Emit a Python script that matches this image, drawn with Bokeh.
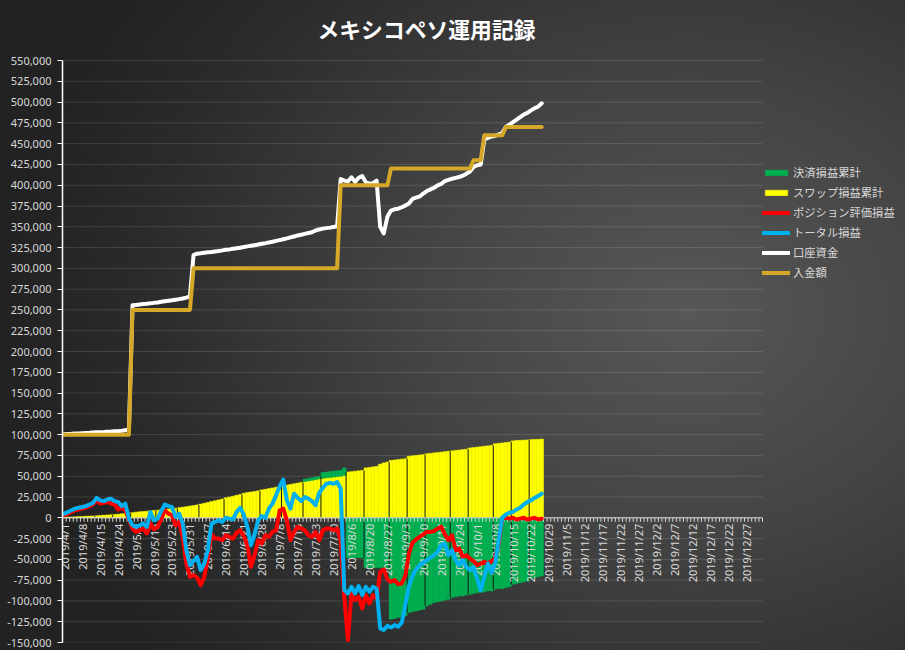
import numpy as np
from math import pi
from bokeh.plotting import figure
from bokeh.models import Range1d, FixedTicker, NumeralTickFormatter, Legend, LegendItem, ColumnDataSource
from bokeh.core.properties import value
from bokeh.embed import file_html
from bokeh.resources import INLINE

title_text = "メキシコペソ運用記録"
series_names = ["決済損益累計", "スワップ損益累計", "ポジション評価損益", "トータル損益", "口座資金", "入金額"]

# category axis (one category per row of the sheet); a label every 5 categories
tick_labels = ["2019/4/1", "2019/4/8", "2019/4/15", "2019/4/24", "2019/5/9", "2019/5/16", "2019/5/23",
               "2019/5/31", "2019/6/7", "2019/6/14", "2019/6/21", "2019/6/28", "2019/7/8", "2019/7/16",
               "2019/7/23", "2019/7/30", "2019/8/6", "2019/8/20", "2019/8/27", "2019/9/3", "2019/9/10",
               "2019/9/17", "2019/9/24", "2019/10/1", "2019/10/8", "2019/10/15", "2019/10/22", "2019/10/29",
               "2019/11/5", "2019/11/12", "2019/11/17", "2019/11/22", "2019/11/27", "2019/12/2", "2019/12/7",
               "2019/12/12", "2019/12/17", "2019/12/22", "2019/12/27"]
n_categories = 195
label_every = 5

# categories where a new week starts (thin dark break between bars)
week_starts = [9, 14, 19, 26, 32, 38, 45, 50, 55, 61, 67, 72, 79, 84, 91, 96, 101, 108, 113, 120, 125, 130]

# values in thousand yen, one per recorded day
realized_k = ([0] * 67 + [3, 3, 3, 3, 3] + [7, 7, 7, 7, 7, 7, 9] + [-48] * 5 + [-60] * 7 +
              [-122, -121, -120, -119, -118] + [-114, -113, -112, -111, -110] +
              [-106, -104, -102, -101, -100, -99, -98] + [-96, -95, -94, -94, -93] +
              [-92, -91, -90, -90, -89, -88, -88] + [-86, -85, -85, -84, -83] +
              [-80, -79, -78, -77, -76] + [-73, -72, -71, -70])

swap_k = [0.5, 0.8, 1.0, 1.2, 1.4, 1.6, 1.8, 2.0, 2.2, 2.4,
          2.8, 3.1, 3.4, 3.7, 4.0, 4.4, 4.8, 5.2, 5.6, 6.2,
          6.8, 7.2, 7.6, 8.0, 8.4, 8.8, 9.2, 9.6, 10.0, 10.5,
          11.0, 11.5, 12.2, 12.8, 13.4, 14.1, 14.8, 15.5, 16.5, 17.5,
          18.5, 19.5, 20.5, 21.5, 22.5, 24.0, 25.0, 26.0, 27.0, 28.0,
          29.5, 30.3, 31.0, 31.7, 32.4, 33.5, 34.3, 35.1, 35.9, 36.7,
          37.5, 38.5, 39.3, 40.1, 40.9, 41.7, 42.5, 43.5, 44.3, 45.1,
          45.9, 46.7, 47.5, 48.0, 48.5, 49.0, 49.5, 50.0, 51.0, 55.0,
          55.5, 56.0, 56.5, 57.0, 60.0, 60.6, 61.2, 61.8, 64.5, 66.0,
          67.0, 69.0, 69.5, 70.0, 70.5, 71.0, 74.0, 74.5, 75.0, 75.5,
          76.0, 77.0, 77.5, 78.0, 78.5, 79.0, 79.5, 80.0, 80.5, 81.0,
          81.5, 82.0, 82.5, 84.0, 84.5, 85.0, 85.5, 86.0, 86.5, 87.0,
          89.0, 89.5, 90.0, 90.5, 91.0, 92.5, 93.0, 93.2, 93.4, 93.6,
          94.0, 94.2, 94.4, 94.6]

position_k = [3, 5, 7, 9, 10, 11, 12, 14, 16, 21,
              17, 18, 19, 17, 16, 10, 12, 9, -2, -13,
              -17, -15, -13, -19, -7, -14, -11, -2, 9, 5,
              3, -9, -5, -23, -55, -71, -69, -72, -81, -71,
              -47, -20, -25, -25, -27, -21, -23, -25, -18, -15,
              -22, -33, -59, -45, -27, -31, -21, -23, -17, -15,
              9, 11, -3, -27, -17, -11, -13, -15, -21, -23,
              -17, -27, -15, -13, -13, -15, -13, -27, -95, -147,
              -91, -99, -95, -109, -93, -103, -93, -97, -65, -62,
              -74, -77, -75, -80, -79, -70, -43, -30, -26, -23,
              -20, -17, -17, -16, -13, -11, -20, -27, -21, -39,
              -37, -47, -45, -49, -52, -57, -55, -53, -55, -52,
              -49, -31, -1, 0, -1, 0, -2, -1, 0, -2,
              -1, 0, -2, -1]

total_k = [5, 7, 9, 11, 12, 13, 14, 16, 18, 24,
           21, 20, 22, 23, 20, 19, 14, 17, -1, -9,
           -11, -9, -7, -11, 7, -3, -1, 8, 16, 14,
           13, 1, 5, -7, -39, -57, -52, -47, -63, -55,
           -39, -7, -5, -3, -5, 0, -1, -2, 7, 12,
           4, -11, -33, -20, -3, 2, 0, 11, 17, 27,
           38, 46, 21, 11, 29, 24, 20, 25, 23, 20,
           15, 30, 36, 41, 42, 41, 43, 35, -87, -91,
           -83, -91, -82, -93, -83, -89, -83, -85, -133, -135,
           -130, -132, -129, -131, -126, -105, -82, -70, -62, -57,
           -54, -51, -48, -45, -41, -33, -31, -45, -39, -51,
           -57, -51, -59, -63, -59, -73, -87, -71, -55, -66,
           -55, -27, 0, 4, 6, 7, 10, 12, 16, 19,
           21, 24, 26, 29]

account_k = [100.5, 100.8, 101.0, 101.3, 101.5, 101.8, 102.0, 102.2, 102.5, 102.8,
             103.0, 103.2, 103.5, 103.7, 104.0, 104.2, 104.6, 105.2, 106.5,
             255.5, 256.0, 256.5, 257.0, 257.4, 257.9, 258.5, 259.0, 259.8, 260.4,
             261.0, 261.6, 262.3, 263.0, 263.8, 264.8, 266.4,
             316.0, 317.7, 318.2, 318.8, 319.3, 319.8, 320.4, 321.0, 321.6, 322.3,
             322.8, 323.5, 324.2, 324.9, 325.6, 326.4, 327.2, 327.9, 328.6, 329.5,
             330.3, 331.2, 332.0, 333.0, 334.0, 335.0, 336.0, 337.2, 338.3, 339.6,
             340.5, 341.5, 342.6, 343.5, 345.5, 346.8, 347.8, 348.4, 349.0, 349.8, 350.5,
             407.5, 405.5, 404.5, 409.5, 404.0, 409.0, 411.0, 403.5, 402.0, 402.5,
             405.5, 350.0, 342.0, 362.0,
             369.5, 371.0, 371.8, 373.5, 375.5, 378.0, 383.5, 385.0, 386.5, 390.0,
             393.0, 395.0, 397.0, 399.8, 401.5, 405.0, 406.5, 407.8, 408.8, 409.8,
             411.5, 413.8, 416.5,
             422.0, 424.0, 425.0,
             455.0, 457.0, 458.5, 459.5, 461.0, 463.0, 470.0, 473.0, 476.0, 479.0,
             482.0, 485.0, 487.0, 490.0, 492.5, 494.5, 498.5]

deposit_k = ([100] * 19 + [250] * 17 + [300] * 41 + [400] * 14 + [420] * 23 +
             [430] * 3 + [460] * 6 + [470] * 11)

# ---------------------------------------------------------------------------
unit = 1000.0
realized = np.array(realized_k, dtype=float) * unit
swap = np.array(swap_k, dtype=float) * unit
position = np.array(position_k, dtype=float) * unit
total = np.array(total_k, dtype=float) * unit
account = np.array(account_k, dtype=float) * unit
deposit = np.array(deposit_k, dtype=float) * unit
idx = np.arange(len(swap))

y_min, y_max, y_step = -150000, 550000, 25000
y_ticks = list(range(y_min, y_max + 1, y_step))

# layout (pixels)
W, H = 905, 650
b_left, b_right, b_bottom = 62, 0, 8
value_top_px = 60          # where the top of the value axis sits
value_area_px = 582        # height of the value axis
cat_area_px = 700.0        # width of the category axis
frame_w = W - b_left - b_right
frame_h = H - b_bottom
units_per_px = (y_max - y_min) / value_area_px
cat_px = cat_area_px / n_categories
x_start = -0.5
x_end = x_start + frame_w / cat_px
x_cat_end = n_categories - 0.5
y_frame_top = y_min + frame_h * units_per_px

p = figure(width=W, height=H, x_range=Range1d(x_start, x_end), y_range=Range1d(y_min, y_frame_top),
           output_backend="svg", toolbar_location=None, x_axis_location=None,
           min_border_left=b_left, min_border_right=b_right, min_border_top=0,
           min_border_bottom=b_bottom)
p.styles = {"background": "radial-gradient(ellipse 75% 85% at 76% 48%, #575757 0%, #444444 40%, #2b2b2b 80%, #222222 100%)"}
p.background_fill_color = None
p.border_fill_color = None
p.outline_line_color = None
p.grid.visible = False

# title (drawn as text above the value area)
title_cx, title_cy = 426, 28
p.text(x=[x_start + (title_cx - b_left) / cat_px], y=[y_max + (value_top_px - title_cy) * units_per_px],
       text=[title_text], text_align="center", text_baseline="middle",
       text_color="#ffffff", text_font=value("Noto Sans CJK JP"), text_font_size=value("21.8px"),
       text_font_style="bold")

# y axis
ya = p.yaxis[0]
ya.bounds = (y_min, y_max)
ya.ticker = FixedTicker(ticks=y_ticks)
ya.formatter = NumeralTickFormatter(format="0,0")
ya.axis_line_color = "#ffffff"
ya.axis_line_width = 1.5
ya.major_tick_line_color = "#ffffff"
ya.major_tick_out = 5
ya.major_tick_in = 0
ya.minor_tick_line_color = None
ya.major_label_standoff = 6
ya.major_label_text_color = "#d9d9d9"
ya.major_label_text_font = "Noto Sans"
ya.major_label_text_font_size = "11px"

# horizontal gridlines over the category area only
p.segment(x0=x_start, x1=x_cat_end, y0=y_ticks, y1=y_ticks, line_color="#ffffff", line_alpha=0.13, line_width=1)

# stacked columns
pos_g = realized >= 0
src_y = ColumnDataSource(dict(x=idx, top=swap))
bar_y = p.vbar(x="x", width=1.0, bottom=0, top="top", source=src_y,
               fill_color="#ffff00", line_color="#ffff00", line_width=0.5)
nz = realized != 0
g_bottom = np.where(pos_g, swap, 0.0)
g_top = np.where(pos_g, swap + realized, realized)
src_g = ColumnDataSource(dict(x=idx[nz], bottom=g_bottom[nz], top=g_top[nz]))
bar_g = p.vbar(x="x", width=1.0, bottom="bottom", top="top", source=src_g,
               fill_color="#00b050", line_color="#00b050", line_width=0.5)

# week breaks between bars
stack_top = np.where(pos_g, swap + realized, swap)
stack_bot = np.where(pos_g, 0.0, realized)
wb = np.array(week_starts)
wb = wb[wb < len(swap)]
brk_top = np.minimum(stack_top[wb - 1], stack_top[wb])
brk_bot = np.maximum(stack_bot[wb - 1], stack_bot[wb])
p.segment(x0=wb - 0.5, x1=wb - 0.5, y0=brk_bot, y1=brk_top, line_color="#151515", line_width=1)

# category axis drawn at y = 0
p.segment(x0=[x_start], x1=[x_cat_end], y0=[0], y1=[0], line_color="#d9d9d9", line_width=1)
bounds = np.arange(n_categories + 1) - 0.5
p.ray(x=bounds, y=np.zeros(len(bounds)), length=4, angle=-pi / 2, length_units="screen",
      line_color="#d9d9d9", line_width=1)
label_x = np.arange(len(tick_labels)) * label_every
p.text(x=label_x, y=np.zeros(len(label_x)), text=tick_labels, angle=pi / 2,
       text_align="right", text_baseline="middle", y_offset=6,
       text_font=value("Noto Sans"), text_font_size=value("11px"), text_color="#d9d9d9")

# lines
r_pos = p.line(idx, position, line_color="#ff0000", line_width=4, line_join="round", line_cap="round")
r_tot = p.line(idx, total, line_color="#00b0f0", line_width=4, line_join="round", line_cap="round")
r_acc = p.line(idx, account, line_color="#ffffff", line_width=4, line_join="round", line_cap="round")
r_dep = p.line(idx, deposit, line_color="#d6a827", line_width=4, line_join="round", line_cap="round")

legend = Legend(items=[LegendItem(label=series_names[0], renderers=[bar_g]),
                       LegendItem(label=series_names[1], renderers=[bar_y]),
                       LegendItem(label=series_names[2], renderers=[r_pos]),
                       LegendItem(label=series_names[3], renderers=[r_tot]),
                       LegendItem(label=series_names[4], renderers=[r_acc]),
                       LegendItem(label=series_names[5], renderers=[r_dep])],
                location=(700, 360), orientation="vertical")
legend.background_fill_alpha = 0
legend.border_line_alpha = 0
legend.padding = 0
legend.margin = 0
legend.spacing = 0
legend.label_height = 20
legend.glyph_height = 7
legend.glyph_width = 28
legend.label_standoff = 3
legend.label_text_font = "Noto Sans CJK JP"
legend.label_text_font_size = "11.3px"
legend.label_text_color = "#d9d9d9"
p.add_layout(legend)

open("out.html", "w").write(file_html(p, INLINE))
